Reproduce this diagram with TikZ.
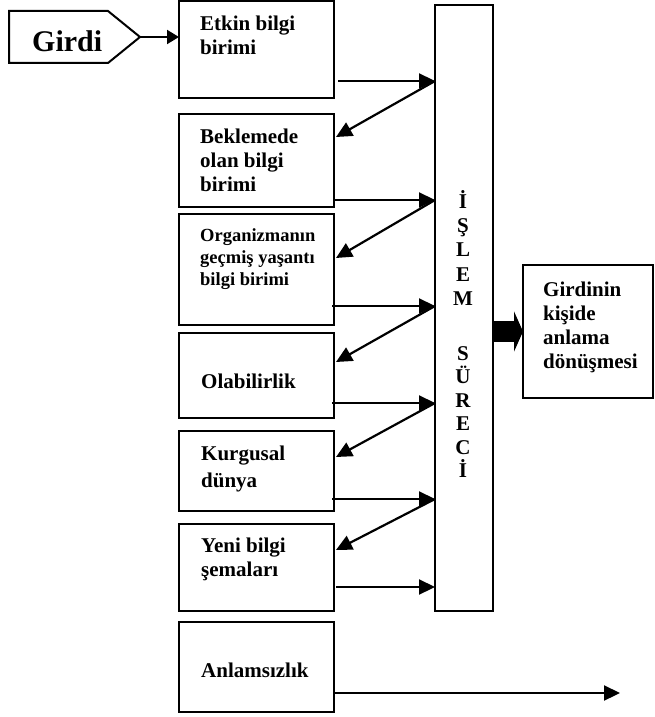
\documentclass[tikz,border=0pt]{standalone}
\usepackage{fontspec}
\setmainfont{Liberation Serif}
\usetikzlibrary{arrows.meta}
\begin{document}
\begin{tikzpicture}[x=1pt,y=-1pt,
  box/.style={draw,line width=2pt,inner sep=0pt,outer sep=0pt,anchor=north west,minimum width=155pt},
  lbl/.style={font=\fontsize{21}{24}\selectfont\bfseries,align=left,anchor=north west,inner sep=0pt},
  ltr/.style={font=\fontsize{21}{24}\selectfont\bfseries,anchor=base,inner sep=0pt},
  arr/.style={line width=2.2pt,-{Triangle[length=16pt,width=15pt]}},
  bigarr/.style={line width=21pt,-{Triangle[length=9pt,width=40pt]}},
]
\useasboundingbox (0,0) rectangle (654,717);

% Girdi pentagon
\draw[line width=2pt,line join=miter] (9,11) -- (108,11) -- (140,37) -- (108,63) -- (9,63) -- cycle;
\coordinate (gtip) at (140,37);
\node[font=\fontsize{30}{34}\selectfont\bfseries,anchor=base west,inner sep=0pt] (girdi) at (32,52) {Girdi};

% boxes
\node[box,minimum height=97pt] (etkin) at (179,1) {};
\node[box,minimum height=93pt] (bekle) at (179,114) {};
\node[box,minimum height=111pt] (org) at (179,214) {};
\node[box,minimum height=85pt] (olab) at (179,333) {};
\node[box,minimum height=80pt] (kurg) at (179,431) {};
\node[box,minimum height=87pt] (yeni) at (179,524) {};
\node[box,minimum height=90pt] (anlam) at (179,622) {};
\node[box,minimum width=58pt,minimum height=606pt] (proc) at (435,5) {};
\node[box,minimum width=130pt,minimum height=133pt] (sonuc) at (523,265) {};

% labels
\node[lbl] (t1) at (200,16) {Etkin bilgi\\birimi};
\node[lbl] (t2) at (200,129) {Beklemede\\olan bilgi\\birimi};
\node[lbl,font=\fontsize{18.5}{22}\selectfont\bfseries] (t3) at (200,228) {Organizmanın\\geçmiş yaşantı\\bilgi birimi};
\node[lbl] (t4) at (201,374) {Olabilirlik};
\node[lbl,font=\fontsize{21}{27}\selectfont\bfseries] (t5) at (201,446) {Kurgusal\\dünya};
\node[lbl] (t6) at (201,538) {Yeni bilgi\\şemaları};
\node[lbl] (t7) at (201,663) {Anlamsızlık};
\node[lbl] (t8) at (543,282) {Girdinin\\kişide\\anlama\\dönüşmesi};

% process letters
\foreach \l/\y [count=\i] in {İ/208,Ş/232,L/256,E/281,M/305,S/360,Ü/383,R/407,E/430,C/454,İ/477}
  \node[ltr] (p\i) at (463,\y) {\l};

% connectors
\draw[line width=2pt,-{Triangle[length=12pt,width=14pt]}] (gtip) -- (etkin.west |- gtip);

\draw[arr] ([xshift=4pt,yshift=17pt]etkin.south east) coordinate (s1) -- (s1 -| proc.west);
\draw[arr] (s1 -| proc.west) -- ([xshift=2pt,yshift=-23pt]bekle.north east);

\draw[arr] ([yshift=7pt]bekle.south east) coordinate (s2) -- (s2 -| proc.west);
\draw[arr] (s2 -| proc.west) -- ([xshift=2pt,yshift=-44pt]org.north east);

\draw[arr] ([xshift=-2pt,yshift=19pt]org.south east) coordinate (s3) -- (s3 -| proc.west);
\draw[arr] (s3 -| proc.west) -- ([xshift=2pt,yshift=-29pt]olab.north east);

\draw[arr] ([xshift=-2pt,yshift=15pt]olab.south east) coordinate (s4) -- (s4 -| proc.west);
\draw[arr] (s4 -| proc.west) -- ([xshift=2pt,yshift=-26pt]kurg.north east);

\draw[arr] ([xshift=-2pt,yshift=12pt]kurg.south east) coordinate (s5) -- (s5 -| proc.west);
\draw[arr] (s5 -| proc.west) -- ([xshift=2pt,yshift=-26pt]yeni.north east);

\draw[arr] ([xshift=2pt,yshift=24pt]yeni.south east) coordinate (s6) -- (s6 -| proc.west);

\coordinate (anlamEnd) at (620,693);
\draw[arr] ([yshift=19pt]anlam.south east) coordinate (s7) -- (s7 -| anlamEnd);

\draw[bigarr] (proc.east |- sonuc.west) -- (sonuc.west);
\end{tikzpicture}
\end{document}
